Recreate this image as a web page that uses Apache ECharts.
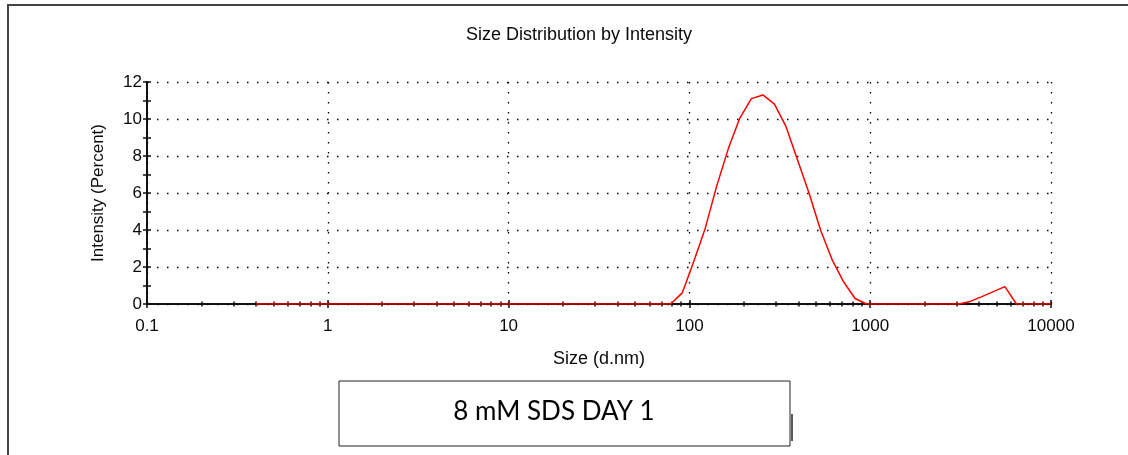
<!DOCTYPE html>
<html>
<head>
<meta charset="utf-8">
<script src="https://cdn.jsdelivr.net/npm/echarts@6/dist/echarts.min.js"></script>
<style>html,body{margin:0;padding:0;background:#fff}#c{width:1128px;height:455px}</style>
</head>
<body>
<div id="c"></div>
<script>
// Size bins (d.nm)
var sizes = [0.4000, 0.4632, 0.5365, 0.6213, 0.7195, 0.8332, 0.9649, 1.117, 1.294, 1.499,
  1.736, 2.010, 2.328, 2.696, 3.122, 3.615, 4.187, 4.849, 5.615, 6.503,
  7.531, 8.721, 10.10, 11.70, 13.54, 15.69, 18.17, 21.04, 24.36, 28.21,
  32.67, 37.84, 43.82, 50.75, 58.77, 68.06, 78.82, 91.28, 105.7, 122.4,
  141.8, 164.2, 190.1, 220.2, 255.0, 295.3, 342.0, 396.1, 458.7, 531.2,
  615.1, 712.4, 825.0, 955.4, 1106, 1281, 1484, 1718, 1990, 2305,
  2669, 3091, 3580, 4145, 4801, 5560, 6439, 7456, 8635, 10000];
// Intensity (Percent)
var intensity = [0, 0, 0, 0, 0, 0, 0, 0, 0, 0,
  0, 0, 0, 0, 0, 0, 0, 0, 0, 0,
  0, 0, 0, 0, 0, 0, 0, 0, 0, 0,
  0, 0, 0, 0, 0, 0, 0, 0.6, 2.3, 4.1,
  6.4, 8.4, 10.05, 11.1, 11.3, 10.8, 9.6, 7.8, 6.0, 4.0,
  2.4, 1.2, 0.3, 0, 0, 0, 0, 0, 0, 0,
  0, 0, 0.14, 0.4, 0.67, 0.94, 0, 0, 0, 0];
var xMajorTicks = [0.1, 1, 10, 100, 1000, 10000];
var xMinorTicks = [0.2,0.3,0.4,0.5,0.6,0.7,0.8,0.9, 2,3,4,5,6,7,8,9, 20,30,40,50,60,70,80,90,
  200,300,400,500,600,700,800,900, 2000,3000,4000,5000,6000,7000,8000,9000];
var yTicks = [0,1,2,3,4,5,6,7,8,9,10,11,12];
var yLabels = [0,2,4,6,8,10,12];
var titleText = 'Size Distribution by Intensity';
var xName = 'Size (d.nm)';
var yName = 'Intensity (Percent)';
var boxText = '8 mM SDS DAY 1';

var FONT = "'Liberation Sans', Arial, sans-serif";
var TXT = '#0a0a0a';
var axisLine = {show: true, onZero: false, lineStyle: {color: '#111', width: 2}};
var gridLine = {show: true, lineStyle: {color: '#000', width: 1.3, type: [1.5, 8.5]}};
function xAx(ticks, inside, len, extra) {
  var a = {
    type: 'log', logBase: 10, min: 0.1, max: 10000, position: 'bottom',
    axisLine: axisLine,
    axisTick: {show: true, customValues: ticks, inside: inside, length: len, lineStyle: {color: '#111', width: 1.5}},
    axisLabel: {show: false},
    splitLine: {show: false}, minorTick: {show: false}
  };
  return Object.assign(a, extra || {});
}
function yAx(inside, extra) {
  var a = {
    type: 'value', min: 0, max: 12, interval: 2, position: 'left',
    axisLine: axisLine,
    axisTick: {show: true, customValues: yTicks, inside: inside, length: 4, lineStyle: {color: '#111', width: 1.5}},
    axisLabel: {show: false}, splitLine: {show: false}
  };
  return Object.assign(a, extra || {});
}
var data = sizes.map(function (s, i) { return [s, intensity[i]]; });

var chart = echarts.init(document.getElementById('c'), null, {renderer: 'canvas'});
chart.setOption({
  animation: false,
  backgroundColor: '#fff',
  title: {text: titleText, left: 574, top: 21, textAlign: 'center',
    textStyle: {fontFamily: FONT, fontSize: 18, fontWeight: 'normal', color: TXT}},
  grid: {left: 147, right: 77, top: 82, bottom: 151, containLabel: false},
  xAxis: [
    xAx(xMajorTicks, false, 4, {
      name: xName, nameLocation: 'middle', nameGap: 46,
      nameTextStyle: {fontFamily: FONT, fontSize: 18, color: TXT},
      axisLabel: {show: true, customValues: xMajorTicks, margin: 14, fontFamily: FONT, fontSize: 17, color: TXT,
        formatter: function (v) { return String(v); }},
      splitLine: gridLine
    }),
    xAx(xMajorTicks, true, 4),
    xAx(xMinorTicks, false, 2.5),
    xAx(xMinorTicks, true, 2.5)
  ],
  yAxis: [
    yAx(false, {
      name: yName, nameLocation: 'middle', nameGap: 40, nameRotate: 90,
      nameTextStyle: {fontFamily: FONT, fontSize: 17, color: TXT},
      axisLabel: {show: true, customValues: yLabels, margin: 5, fontFamily: FONT, fontSize: 17, color: TXT}
    }),
    yAx(true),
    {type: 'value', min: 0, max: 12, interval: 2, position: 'left',
      axisLine: {show: false}, axisTick: {show: false}, axisLabel: {show: false},
      splitLine: gridLine}
  ],
  series: [{
    type: 'line', data: data, xAxisIndex: 0, yAxisIndex: 0,
    showSymbol: false, symbol: 'none', smooth: false,
    lineStyle: {color: '#ff0000', width: 1.5}, z: 5
  }],
  graphic: [
    {type: 'line', shape: {x1: 8, y1: 4, x2: 8, y2: 455}, style: {stroke: '#444', lineWidth: 2}},
    {type: 'line', shape: {x1: 8, y1: 5, x2: 1128, y2: 5}, style: {stroke: '#444', lineWidth: 2}},
    {type: 'rect', shape: {x: 339, y: 381, width: 451, height: 65}, style: {fill: '#fff', stroke: '#222', lineWidth: 1}},
    {type: 'line', shape: {x1: 792, y1: 414, x2: 792, y2: 441}, style: {stroke: '#222', lineWidth: 1.5}},
    {type: 'text', x: 554, y: 412, style: {text: boxText, font: "26px Lato, 'Open Sans', sans-serif", fill: '#000', textAlign: 'center', textVerticalAlign: 'middle'}}
  ]
});
</script>
</body>
</html>
